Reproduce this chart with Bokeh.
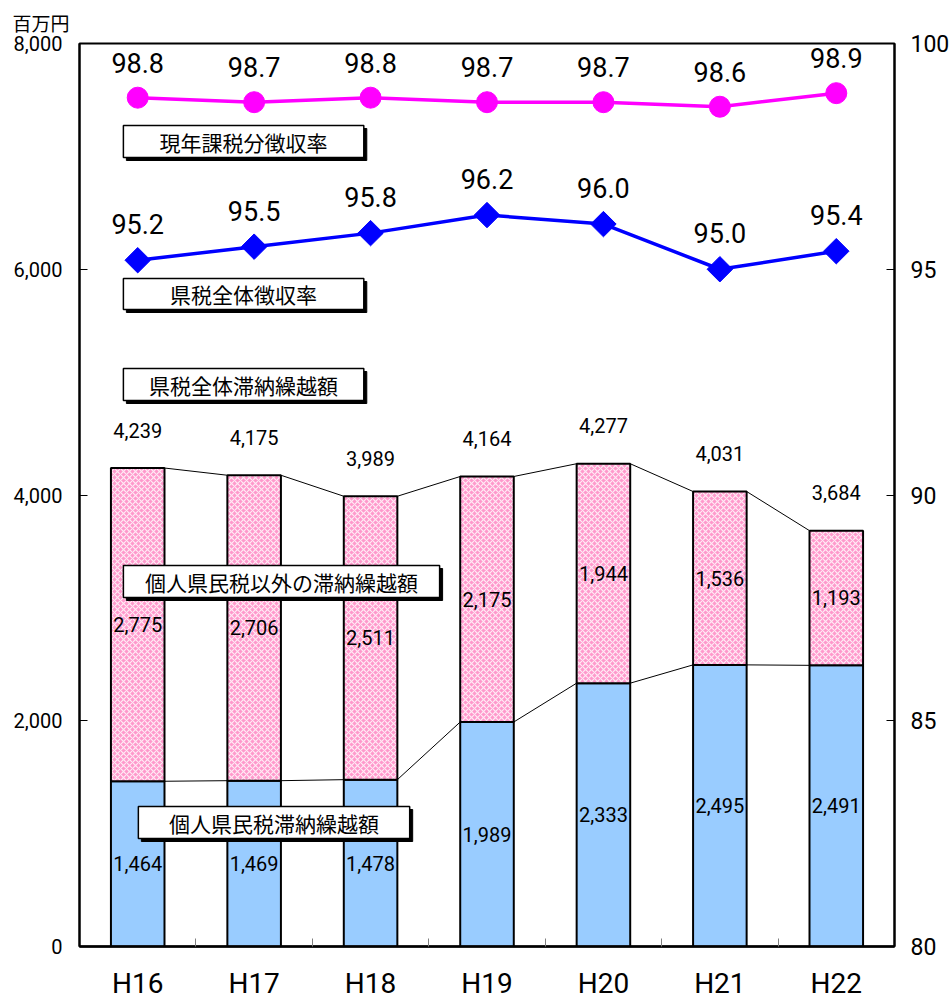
from bokeh.plotting import figure
from bokeh.models import Range1d, LinearAxis, FixedTicker, NumeralTickFormatter, Title
from bokeh.core.properties import value
from bokeh.embed import file_html
from bokeh.resources import INLINE

# ---- data ----
categories = ["H16", "H17", "H18", "H19", "H20", "H21", "H22"]
personal = [1464, 1469, 1478, 1989, 2333, 2495, 2491]      # 個人県民税滞納繰越額
other = [2775, 2706, 2511, 2175, 1944, 1536, 1193]         # 個人県民税以外の滞納繰越額
current_rate = [98.8, 98.7, 98.8, 98.7, 98.7, 98.6, 98.9]  # 現年課税分徴収率
overall_rate = [95.2, 95.5, 95.8, 96.2, 96.0, 95.0, 95.4]  # 県税全体徴収率
left_ticks = [0, 2000, 4000, 6000, 8000]
right_ticks = [80, 85, 90, 95, 100]
box_texts = ["現年課税分徴収率", "県税全体徴収率", "県税全体滞納繰越額",
             "個人県民税以外の滞納繰越額", "個人県民税滞納繰越額"]
unit_text = "百万円"

# ---- layout ----
W, H = 952, 1004
L, R, T, B = 79, 56, 43, 58
FW, FH = W - L - R, H - T - B
YMAX = 8000
N = len(categories)
BAR_W = 0.46

def px_x(px):
    return (px - L) / FW * N

def px_y(py):
    return (T + FH - py) / FH * YMAX

NUM_FONT = value("Roboto")
JP_FONT = value("Noto Sans CJK JP")

xs = [i + 0.5 for i in range(N)]
totals = [a + b for a, b in zip(personal, other)]

p = figure(width=W, height=H, output_backend="svg", toolbar_location=None,
           x_range=Range1d(0, N), y_range=Range1d(0, YMAX),
           min_border_left=L, min_border_right=R, min_border_top=T, min_border_bottom=B)
p.extra_y_ranges = {"pct": Range1d(right_ticks[0], right_ticks[-1])}
p.xgrid.visible = False
p.ygrid.visible = False
p.outline_line_color = "black"
p.outline_line_width = 2
p.background_fill_color = "white"
p.border_fill_color = "white"

# unit title (top-left)
p.add_layout(Title(text=unit_text, align="left", offset=-67, standoff=12,
                   vertical_align="top", text_baseline="top",
                   text_font="Noto Sans CJK JP", text_font_size="19px",
                   text_font_style="normal", text_color="black"), "above")

# x axis
p.xaxis.ticker = FixedTicker(ticks=xs, minor_ticks=list(range(1, N)))
p.xaxis.major_label_overrides = {x: c for x, c in zip(xs, categories)}
p.xaxis.major_tick_in = 0
p.xaxis.major_tick_out = 0
p.xaxis.minor_tick_in = 8
p.xaxis.minor_tick_out = 0
p.xaxis.minor_tick_line_color = "#808080"
p.xaxis.axis_line_width = 2.5
p.xaxis.major_label_text_font = "Roboto"
p.xaxis.major_label_text_font_size = "28px"
p.xaxis.major_label_text_color = "black"
p.xaxis.major_label_standoff = 20

# left axis
p.yaxis.ticker = FixedTicker(ticks=left_ticks)
p.yaxis.formatter = NumeralTickFormatter(format="0,0")
p.yaxis.major_tick_in = 8
p.yaxis.major_tick_out = 0
p.yaxis.minor_tick_line_color = None
p.yaxis.axis_line_width = 2
p.yaxis.major_label_text_font = "Roboto"
p.yaxis.major_label_text_font_size = "20px"
p.yaxis.major_label_text_color = "black"
p.yaxis.major_label_standoff = 17

# right axis
ra = LinearAxis(y_range_name="pct", ticker=FixedTicker(ticks=right_ticks),
                major_tick_in=8, major_tick_out=0, minor_tick_line_color=None,
                axis_line_width=2, major_label_text_font="Roboto",
                major_label_text_font_size="23px", major_label_text_color="black",
                major_label_standoff=16)
p.add_layout(ra, "right")

# bars
p.vbar(x=xs, width=BAR_W, bottom=0, top=personal, fill_color="#99CCFF",
       line_color="black", line_width=2)
p.vbar(x=xs, width=BAR_W, bottom=personal, top=totals, fill_color="#FF99CC",
       hatch_pattern="diagonal_cross", hatch_color="white", hatch_scale=6,
       hatch_weight=1.2, hatch_alpha=0.8, line_color="black", line_width=2)

# connectors
x0 = [x + BAR_W / 2 for x in xs[:-1]]
x1 = [x - BAR_W / 2 for x in xs[1:]]
p.segment(x0=x0, y0=totals[:-1], x1=x1, y1=totals[1:], line_color="black", line_width=1)
p.segment(x0=x0, y0=personal[:-1], x1=x1, y1=personal[1:], line_color="black", line_width=1)

# rate lines
p.line(xs, current_rate, y_range_name="pct", line_color="#FF00FF", line_width=3.5)
p.scatter(xs, current_rate, y_range_name="pct", marker="circle", size=21,
          fill_color="#FF00FF", line_color="#FF00FF")
p.line(xs, overall_rate, y_range_name="pct", line_color="#0000FF", line_width=3.5)
p.scatter(xs, overall_rate, y_range_name="pct", marker="square", angle=0.7854, size=18,
          fill_color="#0000FF", line_color="#0000FF")

# text boxes
boxes_px = [(123, 125, 364, 157), (123, 278, 364, 309), (123, 368, 364, 400),
            (123, 565, 440, 597), (138, 806, 410, 838)]
for (l, t, r, b), txt in zip(boxes_px, box_texts):
    p.quad(left=[px_x(l + 3)], right=[px_x(r + 3)], top=[px_y(t + 3)], bottom=[px_y(b + 3)],
           fill_color="black", line_color="black")
    p.quad(left=[px_x(l)], right=[px_x(r)], top=[px_y(t)], bottom=[px_y(b)],
           fill_color="white", line_color="black", line_width=1.5)
    p.text(x=[px_x((l + r) / 2)], y=[px_y((t + b) / 2)], text=[txt], text_align="center",
           text_baseline="middle", text_font=JP_FONT, text_font_size="21px", text_color="black")

# value labels
p.text(x=xs, y=[v / 2 for v in personal], text=[f"{v:,}" for v in personal],
       text_align="center", text_baseline="middle", text_font=NUM_FONT,
       text_font_size="20px", text_color="black")
p.text(x=xs, y=[a + b / 2 for a, b in zip(personal, other)], text=[f"{v:,}" for v in other],
       text_align="center", text_baseline="middle", text_font=NUM_FONT,
       text_font_size="20px", text_color="black")
p.text(x=xs, y=totals, text=[f"{v:,}" for v in totals], y_offset=-38,
       text_align="center", text_baseline="middle", text_font=NUM_FONT,
       text_font_size="20px", text_color="black")
p.text(x=xs, y=current_rate, text=[f"{v:.1f}" for v in current_rate], y_range_name="pct",
       y_offset=-35, text_align="center", text_baseline="middle", text_font=NUM_FONT,
       text_font_size="27px", text_color="black")
p.text(x=xs, y=overall_rate, text=[f"{v:.1f}" for v in overall_rate], y_range_name="pct",
       y_offset=-36, text_align="center", text_baseline="middle", text_font=NUM_FONT,
       text_font_size="27px", text_color="black")

open("out.html", "w").write(file_html(p, INLINE))
